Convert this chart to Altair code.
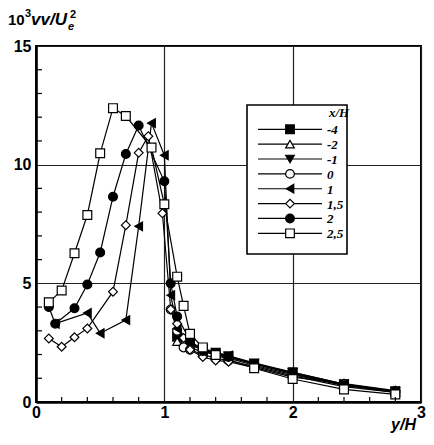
import altair as alt
import pandas as pd

# ---------------- data ----------------
series_names = ["-4", "-2", "-1", "0", "1", "1,5", "2", "2,5"]
series_shapes = ["square", "triangle-up", "triangle-down", "circle",
                 "triangle-left", "diamond", "circle", "square"]
series_fills = ["black", "white", "black", "white", "black", "white", "black", "white"]

yh_m4 = [1.1, 1.2, 1.3, 1.4, 1.5, 1.7, 2.0, 2.4, 2.8]
vv_m4 = [2.75, 2.4, 2.2, 2.05, 1.9, 1.6, 1.25, 0.75, 0.45]

yh_m2 = [1.1, 1.2, 1.3, 1.4, 1.5, 1.7, 2.0, 2.4, 2.8]
vv_m2 = [2.55, 2.3, 2.1, 2.0, 1.85, 1.55, 1.15, 0.7, 0.4]

yh_m1 = [1.1, 1.2, 1.3, 1.4, 1.5, 1.7, 2.0, 2.4, 2.8]
vv_m1 = [2.9, 2.5, 2.25, 2.1, 1.95, 1.65, 1.25, 0.75, 0.45]

yh_0 = [1.05, 1.1, 1.15, 1.2, 1.3, 1.4, 1.5, 1.7, 2.0, 2.4, 2.8]
vv_0 = [3.9, 3.0, 2.3, 2.2, 2.0, 1.85, 1.75, 1.5, 1.1, 0.65, 0.4]

yh_1 = [0.15, 0.4, 0.5, 0.7, 0.8, 0.9, 1.0, 1.05, 1.1, 1.2, 1.3, 1.4, 1.5, 1.7, 2.0, 2.4, 2.8]
vv_1 = [3.3, 3.75, 2.9, 3.45, 7.4, 11.75, 10.4, 4.5, 3.1, 2.5, 2.15, 2.05, 1.95, 1.6, 1.2, 0.72, 0.45]

yh_15 = [0.1, 0.2, 0.3, 0.4, 0.6, 0.7, 0.8, 0.875, 0.985, 1.05, 1.1, 1.15, 1.2, 1.3, 1.4, 1.5, 1.7, 2.0, 2.4, 2.8]
vv_15 = [2.68, 2.33, 2.73, 3.1, 4.65, 7.45, 10.5, 11.2, 7.95, 3.9, 3.3, 2.7, 2.2, 1.9, 1.75, 1.7, 1.45, 1.05, 0.78, 0.48]

yh_2 = [0.1, 0.15, 0.3, 0.4, 0.5, 0.6, 0.7, 0.8, 1.0, 1.05, 1.1, 1.2, 1.3, 1.5, 1.7, 2.0, 2.4, 2.8]
vv_2 = [4.0, 3.3, 3.95, 4.95, 6.3, 8.65, 10.45, 11.65, 9.3, 5.0, 3.6, 2.6, 2.15, 1.9, 1.6, 1.2, 0.7, 0.45]

yh_25 = [0.1, 0.2, 0.3, 0.4, 0.5, 0.6, 0.7, 0.9, 1.0, 1.1, 1.15, 1.2, 1.3, 1.4, 1.7, 2.0, 2.4, 2.8]
vv_25 = [4.2, 4.7, 6.27, 7.88, 10.48, 12.38, 12.05, 10.72, 8.33, 5.28, 4.05, 2.87, 2.3, 1.98, 1.42, 0.97, 0.53, 0.32]

x_labels = [0, 1, 2, 3]
y_labels = [0, 5, 10, 15]
x_minor = [0.2, 0.4, 0.6, 0.8, 1.2, 1.4, 1.6, 1.8, 2.2, 2.4, 2.6, 2.8]
y_minor = [1, 2, 3, 4, 6, 7, 8, 9, 11, 12, 13, 14]

all_yh = [yh_m4, yh_m2, yh_m1, yh_0, yh_1, yh_15, yh_2, yh_25]
all_vv = [vv_m4, vv_m2, vv_m1, vv_0, vv_1, vv_15, vv_2, vv_25]

rows = []
for name, xs, vs in zip(series_names, all_yh, all_vv):
    for k, (a, b) in enumerate(zip(xs, vs)):
        rows.append({"series": name, "yh": a, "v": b, "k": k})
df = pd.DataFrame(rows)

# ---------------- layout / style ----------------
W, H = 385, 356
FONT = "Liberation Sans"
SERIF = "Liberation Serif"

x_enc = alt.X("yh:Q", scale=alt.Scale(domain=[0, 3], nice=False, zero=False),
              axis=alt.Axis(values=x_labels, format="d", title=None, ticks=False,
                            labelFlush=False, labelPadding=2))
y_enc = alt.Y("v:Q", scale=alt.Scale(domain=[0, 15], nice=False),
              axis=alt.Axis(values=y_labels, format="d", title=None, ticks=False,
                            labelPadding=5))

shape_enc = alt.Shape("series:N", scale=alt.Scale(domain=series_names, range=series_shapes), legend=None)
fill_enc = alt.Fill("series:N", scale=alt.Scale(domain=series_names, range=series_fills), legend=None)

base = alt.Chart(df)
lines = base.mark_line(color="black", strokeWidth=1.2).encode(
    x=x_enc, y=y_enc, detail="series:N", order="k:Q")
points = base.mark_point(size=78, strokeWidth=1.2, stroke="black", opacity=1, filled=False).encode(
    x=x_enc, y=y_enc, shape=shape_enc, fill=fill_enc)

xt = alt.Chart(pd.DataFrame({"yh": x_minor})).mark_rule(color="black", strokeWidth=1.2).encode(
    x=x_enc, y=alt.value(H - 5), y2=alt.value(H))
yt = alt.Chart(pd.DataFrame({"v": y_minor})).mark_rule(color="black", strokeWidth=1.2).encode(
    y=y_enc, x=alt.value(0), x2=alt.value(6))

one = pd.DataFrame({"a": [0]})

# legend
LX0, LX1, LY0, LY1 = 211, 311, 59, 208
leg_box = alt.Chart(one).mark_rect(fill="white", stroke="black", strokeWidth=1.6).encode(
    x=alt.value(LX0), x2=alt.value(LX1), y=alt.value(LY0), y2=alt.value(LY1))
leg_title = alt.Chart(one).mark_text(text="x/H", font=SERIF, fontSize=13, fontWeight="bold",
                                     fontStyle="italic", align="left", baseline="middle").encode(
    x=alt.value(293), y=alt.value(67))
leg_layers = [leg_box, leg_title]
for i, (name, shp, fil) in enumerate(zip(series_names, series_shapes, series_fills)):
    yy = 83.3 + i * 14.86
    leg_layers.append(alt.Chart(one).mark_rule(color="black", strokeWidth=1.2).encode(
        x=alt.value(222), x2=alt.value(286), y=alt.value(yy)))
    leg_layers.append(alt.Chart(one).mark_point(shape=shp, fill=fil, stroke="black", strokeWidth=1.2,
                                                size=75, opacity=1).encode(
        x=alt.value(254), y=alt.value(yy)))
    leg_layers.append(alt.Chart(one).mark_text(text=name, font=SERIF, fontSize=13, fontWeight="bold",
                                               fontStyle="italic", align="left", baseline="middle").encode(
        x=alt.value(291), y=alt.value(yy + 1)))

# axis titles
def txt(t, x, y, size, style="normal", align="left"):
    return alt.Chart(one).mark_text(text=t, font=FONT, fontSize=size, fontWeight="bold",
                                    fontStyle=style, align=align, baseline="alphabetic").encode(
        x=alt.value(x), y=alt.value(y))

ytitle = [
    txt("10", -28, -21, 15),
    txt("3", -11, -29, 11),
    txt("vv/U", -5, -21, 17, "italic"),
    txt("e", 32, -16, 11, "italic"),
    txt("2", 34, -28, 11),
]
xtitle = txt("y/H", 380, 384, 16, "italic", "right")

chart = alt.layer(lines, points, xt, yt, *leg_layers, *ytitle, xtitle).properties(
    width=W, height=H,
    autosize=alt.AutoSizeParams(type="none"),
    padding={"left": 28, "top": 38, "right": 5, "bottom": 31},
).configure_view(stroke="black", strokeWidth=2).configure_axis(
    labelFont=FONT, labelFontSize=16, labelFontWeight="bold", labelColor="black",
    domainColor="black", domainWidth=2.6, grid=True, gridColor="#222", gridWidth=1.2,
    gridOpacity=1, labelOverlap=False,
)

chart.save("out.html", embed_options={"renderer": "svg", "actions": False})
